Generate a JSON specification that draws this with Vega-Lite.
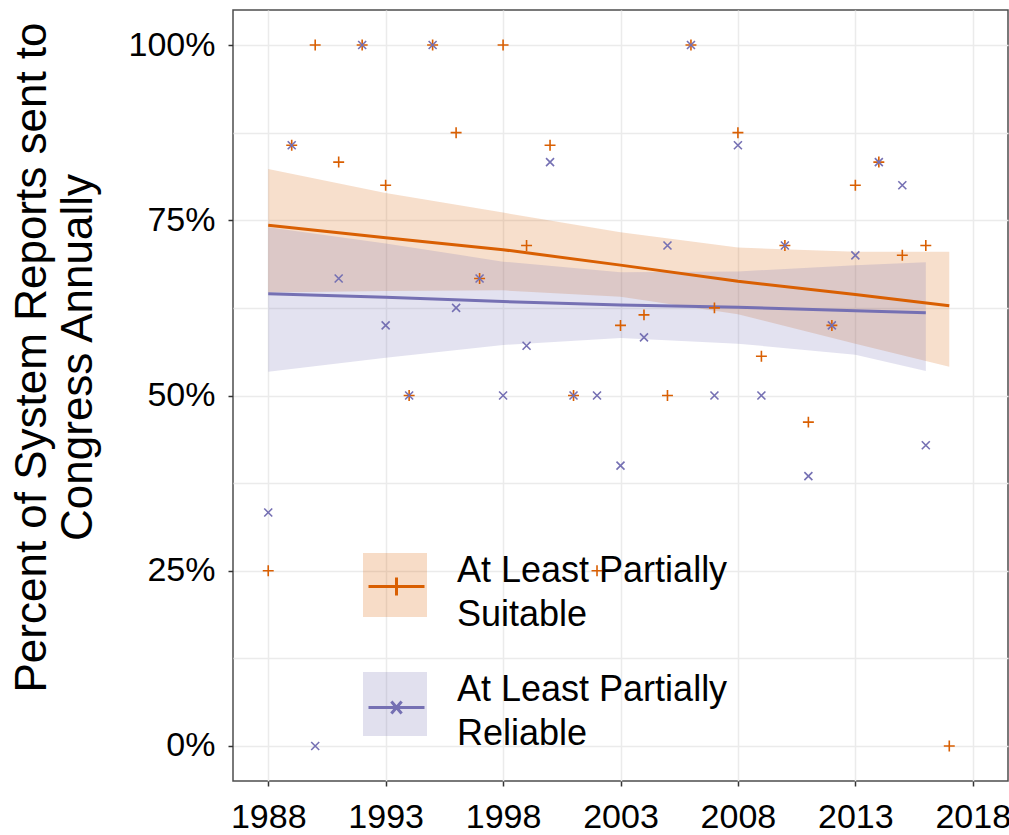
{
  "$schema": "https://vega.github.io/schema/vega-lite/v6.json",
  "width": 775,
  "height": 771,
  "autosize": {"type": "none"},
  "padding": {"left": 233, "top": 10, "right": 1, "bottom": 54},
  "background": "white",
  "config": {
    "font": "Liberation Sans",
    "view": {"stroke": "#4d4d4d", "strokeWidth": 1.5},
    "axis": {
      "domain": false,
      "gridColor": "#ebebeb",
      "gridWidth": 1.5,
      "tickColor": "#333333",
      "tickSize": 5,
      "tickWidth": 1.5,
      "labelColor": "#000000",
      "labelFont": "Liberation Sans",
      "labelFontSize": 34,
      "titleColor": "#000000",
      "titleFont": "Liberation Sans",
      "titleFontWeight": "normal"
    }
  },
  "datasets": {
    "obs": [
      {"year": 1988, "pct": 0.25, "series": "Suitable"},
      {"year": 1989, "pct": 0.857, "series": "Suitable"},
      {"year": 1990, "pct": 1.0, "series": "Suitable"},
      {"year": 1991, "pct": 0.833, "series": "Suitable"},
      {"year": 1992, "pct": 1.0, "series": "Suitable"},
      {"year": 1993, "pct": 0.8, "series": "Suitable"},
      {"year": 1994, "pct": 0.5, "series": "Suitable"},
      {"year": 1995, "pct": 1.0, "series": "Suitable"},
      {"year": 1996, "pct": 0.875, "series": "Suitable"},
      {"year": 1997, "pct": 0.667, "series": "Suitable"},
      {"year": 1998, "pct": 1.0, "series": "Suitable"},
      {"year": 1999, "pct": 0.714, "series": "Suitable"},
      {"year": 2000, "pct": 0.857, "series": "Suitable"},
      {"year": 2001, "pct": 0.5, "series": "Suitable"},
      {"year": 2002, "pct": 0.25, "series": "Suitable"},
      {"year": 2003, "pct": 0.6, "series": "Suitable"},
      {"year": 2004, "pct": 0.615, "series": "Suitable"},
      {"year": 2005, "pct": 0.5, "series": "Suitable"},
      {"year": 2006, "pct": 1.0, "series": "Suitable"},
      {"year": 2007, "pct": 0.625, "series": "Suitable"},
      {"year": 2008, "pct": 0.875, "series": "Suitable"},
      {"year": 2009, "pct": 0.556, "series": "Suitable"},
      {"year": 2010, "pct": 0.714, "series": "Suitable"},
      {"year": 2011, "pct": 0.462, "series": "Suitable"},
      {"year": 2012, "pct": 0.6, "series": "Suitable"},
      {"year": 2013, "pct": 0.8, "series": "Suitable"},
      {"year": 2014, "pct": 0.833, "series": "Suitable"},
      {"year": 2015, "pct": 0.7, "series": "Suitable"},
      {"year": 2016, "pct": 0.714, "series": "Suitable"},
      {"year": 2017, "pct": 0.0, "series": "Suitable"},
      {"year": 1988, "pct": 0.333, "series": "Reliable"},
      {"year": 1989, "pct": 0.857, "series": "Reliable"},
      {"year": 1990, "pct": 0.0, "series": "Reliable"},
      {"year": 1991, "pct": 0.667, "series": "Reliable"},
      {"year": 1992, "pct": 1.0, "series": "Reliable"},
      {"year": 1993, "pct": 0.6, "series": "Reliable"},
      {"year": 1994, "pct": 0.5, "series": "Reliable"},
      {"year": 1995, "pct": 1.0, "series": "Reliable"},
      {"year": 1996, "pct": 0.625, "series": "Reliable"},
      {"year": 1997, "pct": 0.667, "series": "Reliable"},
      {"year": 1998, "pct": 0.5, "series": "Reliable"},
      {"year": 1999, "pct": 0.571, "series": "Reliable"},
      {"year": 2000, "pct": 0.833, "series": "Reliable"},
      {"year": 2001, "pct": 0.5, "series": "Reliable"},
      {"year": 2002, "pct": 0.5, "series": "Reliable"},
      {"year": 2003, "pct": 0.4, "series": "Reliable"},
      {"year": 2004, "pct": 0.583, "series": "Reliable"},
      {"year": 2005, "pct": 0.714, "series": "Reliable"},
      {"year": 2006, "pct": 1.0, "series": "Reliable"},
      {"year": 2007, "pct": 0.5, "series": "Reliable"},
      {"year": 2008, "pct": 0.857, "series": "Reliable"},
      {"year": 2009, "pct": 0.5, "series": "Reliable"},
      {"year": 2010, "pct": 0.714, "series": "Reliable"},
      {"year": 2011, "pct": 0.385, "series": "Reliable"},
      {"year": 2012, "pct": 0.6, "series": "Reliable"},
      {"year": 2013, "pct": 0.7, "series": "Reliable"},
      {"year": 2014, "pct": 0.833, "series": "Reliable"},
      {"year": 2015, "pct": 0.8, "series": "Reliable"},
      {"year": 2016, "pct": 0.429, "series": "Reliable"}
    ],
    "fit": [
      {"year": 1988, "fit": 0.743, "lo": 0.647, "hi": 0.823, "series": "Suitable"},
      {"year": 1993, "fit": 0.725, "lo": 0.649, "hi": 0.789, "series": "Suitable"},
      {"year": 1998, "fit": 0.708, "lo": 0.650, "hi": 0.761, "series": "Suitable"},
      {"year": 2003, "fit": 0.686, "lo": 0.641, "hi": 0.733, "series": "Suitable"},
      {"year": 2008, "fit": 0.663, "lo": 0.616, "hi": 0.711, "series": "Suitable"},
      {"year": 2013, "fit": 0.644, "lo": 0.574, "hi": 0.705, "series": "Suitable"},
      {"year": 2017, "fit": 0.628, "lo": 0.541, "hi": 0.705, "series": "Suitable"},
      {"year": 1988, "fit": 0.645, "lo": 0.534, "hi": 0.740, "series": "Reliable"},
      {"year": 1993, "fit": 0.640, "lo": 0.554, "hi": 0.717, "series": "Reliable"},
      {"year": 1998, "fit": 0.634, "lo": 0.572, "hi": 0.691, "series": "Reliable"},
      {"year": 2003, "fit": 0.629, "lo": 0.582, "hi": 0.676, "series": "Reliable"},
      {"year": 2008, "fit": 0.626, "lo": 0.574, "hi": 0.677, "series": "Reliable"},
      {"year": 2013, "fit": 0.621, "lo": 0.558, "hi": 0.686, "series": "Reliable"},
      {"year": 2016, "fit": 0.618, "lo": 0.535, "hi": 0.690, "series": "Reliable"}
    ]
  },
  "layer": [
    {
      "data": {"name": "fit"},
      "transform": [{"filter": "datum.series === 'Suitable'"}],
      "mark": {"type": "area", "fillOpacity": 0.2},
      "encoding": {
        "x": {
          "field": "year", "type": "quantitative",
          "scale": {"domain": [1986.5, 2019.5], "nice": false, "zero": false},
          "axis": {"values": [1988, 1993, 1998, 2003, 2008, 2013, 2018], "format": "d", "title": null, "labelPadding": 14, "labelFlush": false}
        },
        "y": {
          "field": "lo", "type": "quantitative",
          "scale": {"domain": [-0.05, 1.05], "nice": false, "zero": false},
          "axis": {
            "values": [0, 0.125, 0.25, 0.375, 0.5, 0.625, 0.75, 0.875, 1],
            "labelExpr": "datum.value % 0.25 === 0 ? format(datum.value, '.0%') : ''",
            "tickOpacity": {"condition": {"test": "datum.value % 0.25 !== 0", "value": 0}, "value": 1},
            "labelPadding": 13,
            "title": ["Percent of System Reports sent to", "Congress Annually"],
            "titleFontSize": 44,
            "titleAngle": -90,
            "titleAlign": "center",
            "titleBaseline": "alphabetic",
            "titleLineHeight": 46,
            "titleX": -188,
            "titleY": 347
          }
        },
        "y2": {"field": "hi"},
        "fill": {
          "field": "series", "type": "nominal",
          "scale": {"domain": ["Suitable", "Reliable"], "range": ["#d95f02", "#7570b3"]},
          "legend": {
            "orient": "none", "legendX": 130, "legendY": 543, "title": null, "padding": 0,
            "symbolType": "square", "symbolSize": 4096, "symbolOpacity": 0.22, "symbolStrokeWidth": 0,
            "labelFont": "Liberation Sans", "labelFontSize": 36, "labelColor": "#000000",
            "labelExpr": "['At Least Partially', datum.label]",
            "labelOffset": 30, "labelLimit": 600, "rowPadding": 39,
            "encode": {"labels": {"update": {"lineHeight": {"value": 44}, "dy": {"value": -14}}}}
          }
        }
      }
    },
    {
      "data": {"name": "fit"},
      "transform": [{"filter": "datum.series === 'Reliable'"}],
      "mark": {"type": "area", "fillOpacity": 0.2},
      "encoding": {
        "x": {"field": "year", "type": "quantitative"},
        "y": {"field": "lo", "type": "quantitative"},
        "y2": {"field": "hi"},
        "fill": {"field": "series", "type": "nominal"}
      }
    },
    {
      "data": {"name": "fit"},
      "mark": {"type": "line", "strokeWidth": 3},
      "encoding": {
        "x": {"field": "year", "type": "quantitative"},
        "y": {"field": "fit", "type": "quantitative"},
        "stroke": {
          "field": "series", "type": "nominal",
          "scale": {"range": ["#7570b3", "#d95f02"]},
          "legend": {
            "orient": "none", "legendX": 130, "legendY": 543, "title": null, "padding": 0,
            "values": ["Suitable", "Reliable"],
            "symbolSize": 4096, "symbolStrokeWidth": 3,
            "labelFont": "Liberation Sans", "labelFontSize": 36, "labelOpacity": 0,
            "labelExpr": "['At Least Partially', datum.label]",
            "labelOffset": 30, "labelLimit": 600, "rowPadding": 39,
            "encode": {
              "labels": {"update": {"lineHeight": {"value": 44}, "dy": {"value": -14}}},
              "symbols": {
                "update": {
                  "shape": {"signal": "datum.value === 'Suitable' ? 'M-0.875,0H0.875M0,-0.28V0.28' : 'M-0.875,0H0.875M-0.16,-0.19L0.16,0.19M-0.16,0.19L0.16,-0.19'"},
                  "fill": {"value": "transparent"},
                  "strokeWidth": {"value": 3},
                  "opacity": {"value": 1}
                }
              }
            }
          }
        }
      }
    },
    {
      "data": {"name": "obs"},
      "transform": [{"filter": "datum.series === 'Suitable'"}],
      "mark": {"type": "point", "filled": false, "shape": "M-1,0L1,0M0,-1L0,1", "size": 120, "strokeWidth": 1.6, "color": "#d95f02", "opacity": 1},
      "encoding": {
        "x": {"field": "year", "type": "quantitative"},
        "y": {"field": "pct", "type": "quantitative"}
      }
    },
    {
      "data": {"name": "obs"},
      "transform": [{"filter": "datum.series === 'Reliable'"}],
      "mark": {"type": "point", "filled": false, "shape": "M-1,-1L1,1M-1,1L1,-1", "size": 64, "strokeWidth": 1.6, "color": "#7570b3", "opacity": 1},
      "encoding": {
        "x": {"field": "year", "type": "quantitative"},
        "y": {"field": "pct", "type": "quantitative"}
      }
    }
  ]
}
